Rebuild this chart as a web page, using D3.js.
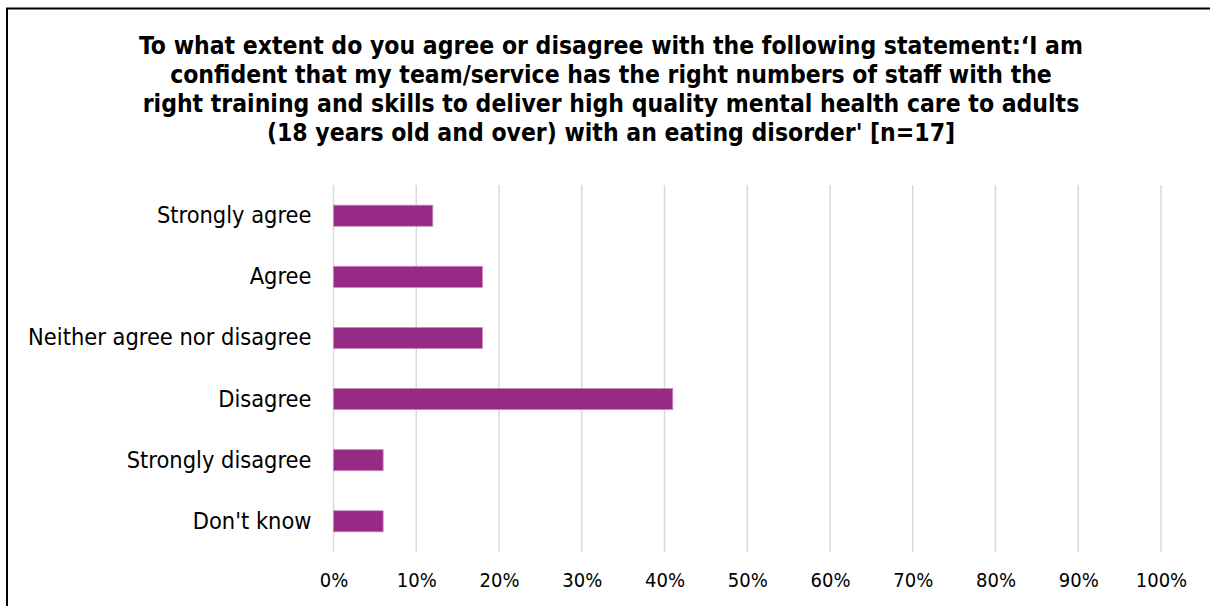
<!DOCTYPE html>
<html>
<head>
<meta charset="utf-8">
<script src="https://cdn.jsdelivr.net/npm/d3@7/dist/d3.min.js"></script>
<style>
  html, body { margin: 0; padding: 0; background: #ffffff; }
  svg { display: block; }
  text { font-family: "DejaVu Sans Condensed", "DejaVu Sans", sans-serif; fill: #000; }
</style>
</head>
<body>
<svg id="chart" width="1210" height="606"></svg>
<script>
// Survey responses (share of respondents, %)
const categories = [
  "Strongly agree",
  "Agree",
  "Neither agree nor disagree",
  "Disagree",
  "Strongly disagree",
  "Don't know"
];
const values = [12, 18, 18, 41, 6, 6];
const tickValues = [0, 10, 20, 30, 40, 50, 60, 70, 80, 90, 100];
const titleLines = [
  "To what extent do you agree or disagree with the following statement:\u2018I am",
  "confident that my team/service has the right numbers of staff with the",
  "right training and skills to deliver high quality mental health care to adults",
  "(18 years old and over) with an eating disorder' [n=17]"
];

const svg = d3.select("#chart");

// outer frame
svg.append("rect")
  .attr("x", 7).attr("y", 8.5)
  .attr("width", 1220).attr("height", 620)
  .attr("fill", "none")
  .attr("stroke", "#000")
  .attr("stroke-width", 2);

// title
const title = svg.append("text")
  .attr("text-anchor", "middle")
  .attr("font-weight", "bold")
  .attr("font-size", 24.5);
titleLines.forEach((line, i) => {
  title.append("tspan")
    .attr("x", 611)
    .attr("y", 53.5 + i * 29)
    .text(line);
});

const plot = { left: 333.5, right: 1161, top: 185, bottom: 552 };

const x = d3.scaleLinear().domain([0, 100]).range([plot.left, plot.right]);
const y = d3.scaleBand().domain(categories).range([plot.top, plot.bottom]).paddingInner(0.655).paddingOuter(0.33);

// vertical gridlines
svg.append("g")
  .selectAll("line")
  .data(tickValues)
  .join("line")
  .attr("x1", d => x(d)).attr("x2", d => x(d))
  .attr("y1", plot.top).attr("y2", plot.bottom)
  .attr("stroke", "#d9d9d9")
  .attr("stroke-width", 1.5);

// bars
svg.append("g")
  .selectAll("rect")
  .data(values)
  .join("rect")
  .attr("x", x(0))
  .attr("y", (d, i) => y(categories[i]))
  .attr("width", d => x(d) - x(0))
  .attr("height", y.bandwidth())
  .attr("fill", "#962a84")
  .attr("stroke", "#c98abd")
  .attr("stroke-width", 0.8);

// category axis
const yAxis = d3.axisLeft(y).tickSize(0).tickPadding(22);
const gy = svg.append("g")
  .attr("transform", `translate(${plot.left},0)`)
  .call(yAxis);
gy.select(".domain").remove();
gy.selectAll("text")
  .attr("font-size", 23.4)
  .attr("fill", "#000")
  .style("font-family", '"DejaVu Sans Condensed", "DejaVu Sans", sans-serif');

// value axis
const xAxis = d3.axisBottom(x).tickValues(tickValues).tickFormat(d => d + "%").tickSize(0).tickPadding(21);
const gx = svg.append("g")
  .attr("transform", `translate(0,${plot.bottom})`)
  .call(xAxis);
gx.select(".domain").remove();
gx.selectAll("text")
  .attr("font-size", 20)
  .attr("fill", "#000")
  .style("font-family", '"DejaVu Sans Condensed", "DejaVu Sans", sans-serif');
</script>
</body>
</html>
